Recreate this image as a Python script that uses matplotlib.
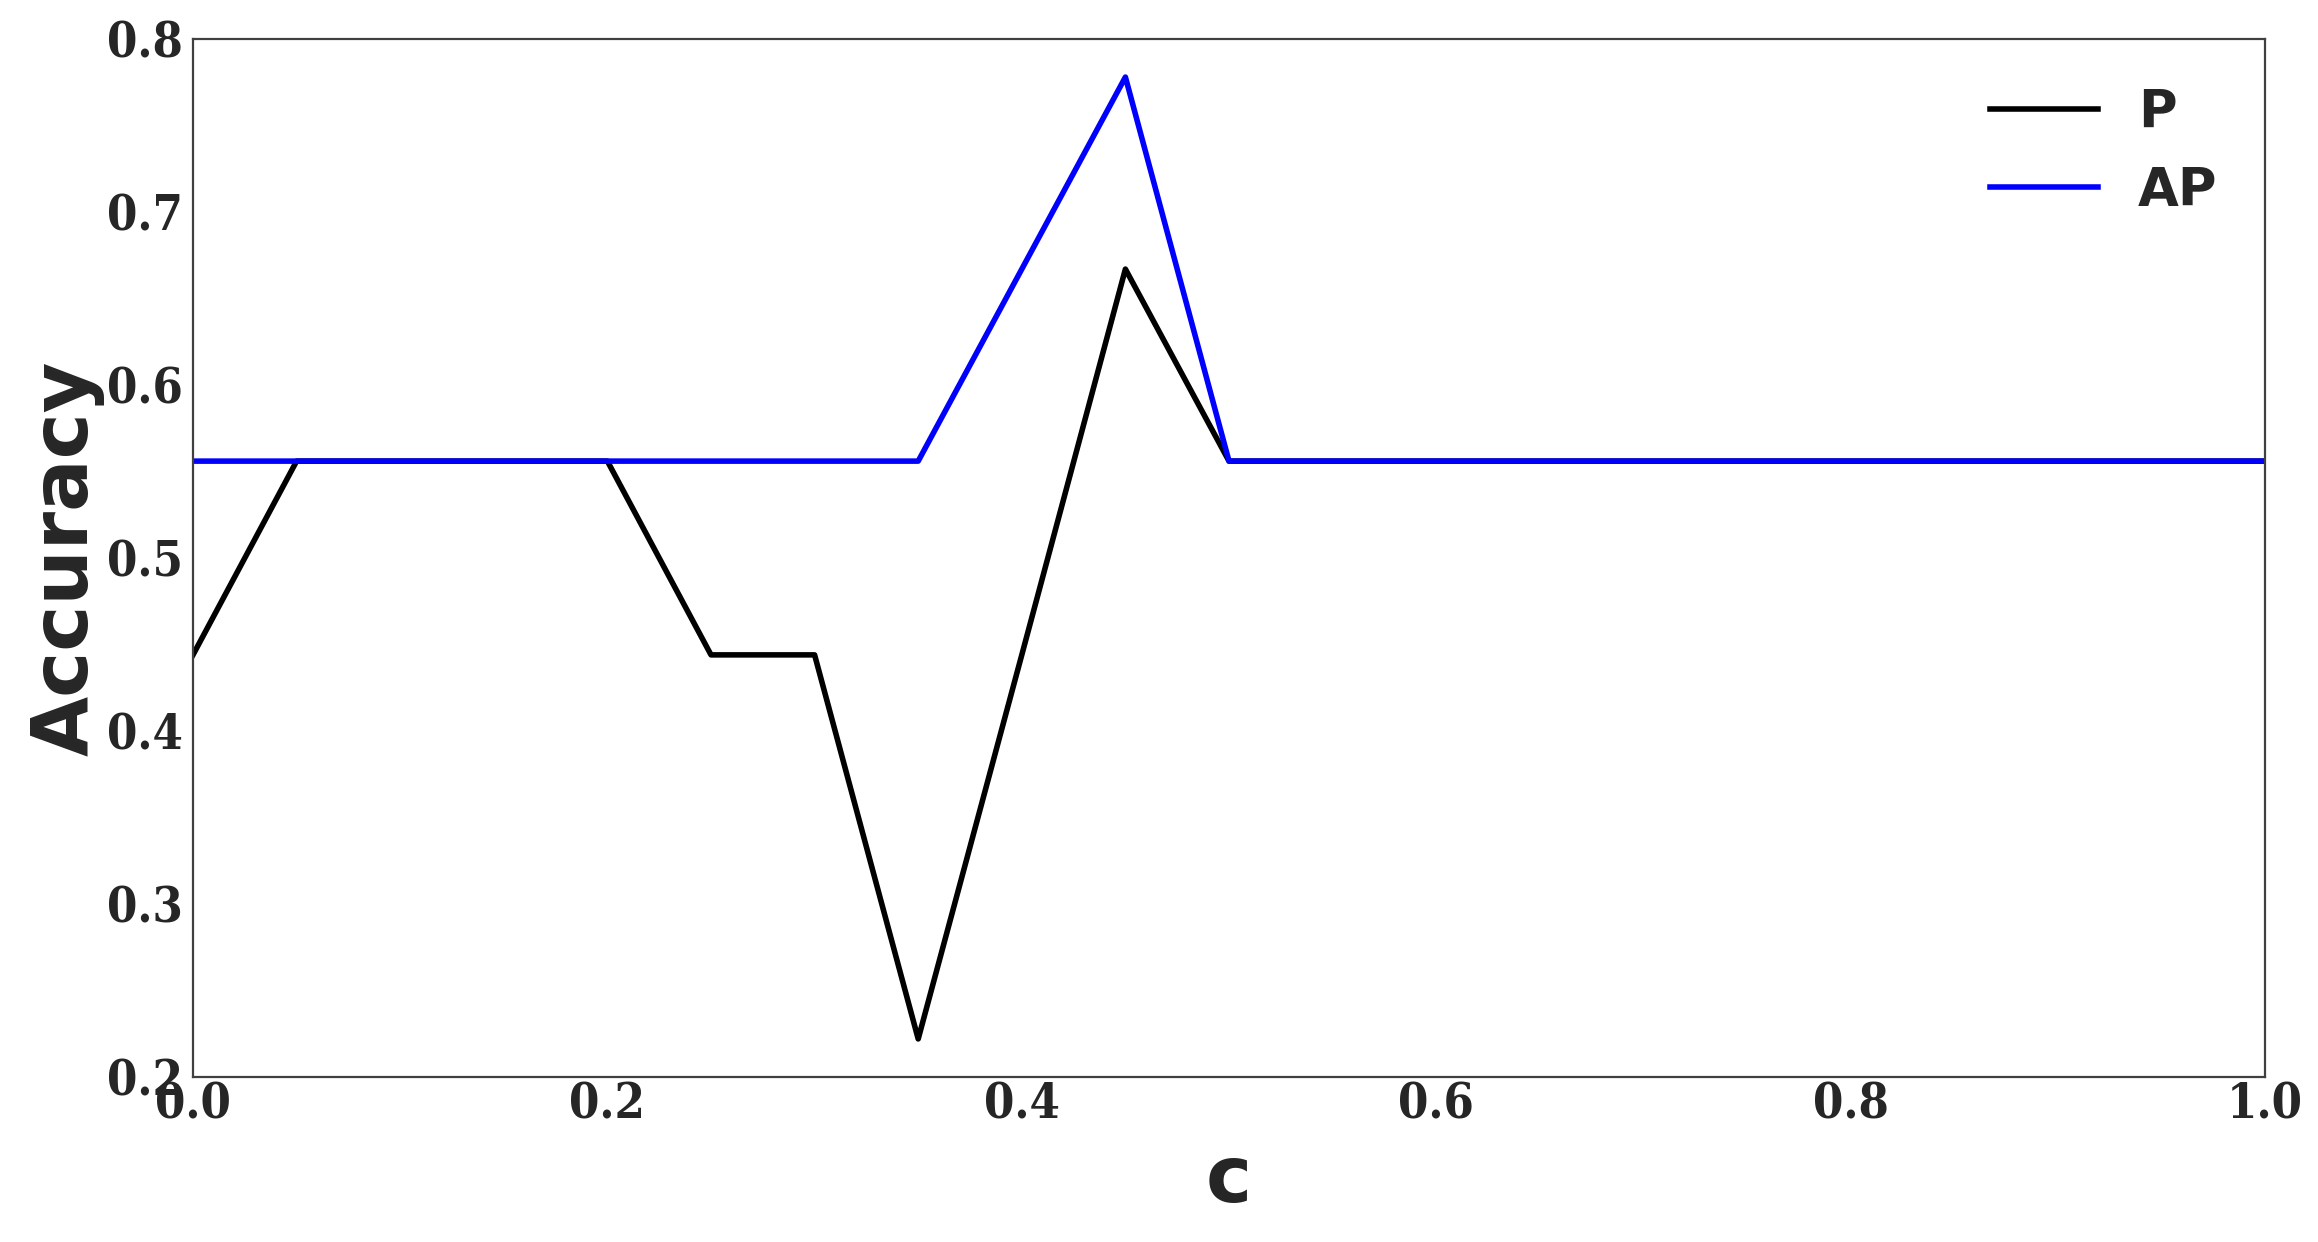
import matplotlib
matplotlib.use("Agg")
import matplotlib.pyplot as plt
from matplotlib import font_manager as fm

c_vals = [0.0, 0.05, 0.1, 0.15, 0.2, 0.25, 0.3, 0.35, 0.4, 0.45, 0.5,
          0.55, 0.6, 0.65, 0.7, 0.75, 0.8, 0.85, 0.9, 0.95, 1.0]
p_acc = [0.444, 0.556, 0.556, 0.556, 0.556, 0.444, 0.444, 0.222, 0.444, 0.667, 0.556,
         0.556, 0.556, 0.556, 0.556, 0.556, 0.556, 0.556, 0.556, 0.556, 0.556]
ap_acc = [0.556, 0.556, 0.556, 0.556, 0.556, 0.556, 0.556, 0.556, 0.667, 0.778, 0.556,
          0.556, 0.556, 0.556, 0.556, 0.556, 0.556, 0.556, 0.556, 0.556, 0.556]
series_labels = ["P", "AP"]
x_ticks = [0.0, 0.2, 0.4, 0.6, 0.8, 1.0]
y_ticks = [0.2, 0.3, 0.4, 0.5, 0.6, 0.7, 0.8]

cond = [f.fname for f in fm.fontManager.ttflist if f.fname.endswith("DejaVuSerifCondensed-Bold.ttf")]
if cond:
    tick_fp = fm.FontProperties(fname=cond[0], size=35)
else:
    tick_fp = fm.FontProperties(family="DejaVu Serif", weight="bold", size=33)

fig = plt.figure(figsize=(23.18, 12.42), dpi=100)
ax = fig.add_axes([193/2318, 1 - 1077/1242, (2265-193)/2318, (1077-39)/1242])

ax.plot(c_vals, p_acc, color="black", lw=4, label=series_labels[0])
ax.plot(c_vals, ap_acc, color="blue", lw=4, label=series_labels[1])

ax.set_xlim(0, 1)
ax.set_ylim(0.2, 0.8)
ax.set_xticks(x_ticks)
ax.set_yticks(y_ticks)
ax.set_xticklabels([f"{t:.1f}" for t in x_ticks])
ax.set_yticklabels([f"{t:.1f}" for t in y_ticks])
for lab in ax.get_xticklabels() + ax.get_yticklabels():
    lab.set_fontproperties(tick_fp)
    lab.set_color("#262626")
ax.tick_params(axis="both", length=0)
ax.tick_params(axis="x", pad=3)
ax.tick_params(axis="y", pad=7)
for s in ax.spines.values():
    s.set_color("#404040")
    s.set_linewidth(1.6)

ax.set_xlabel("c", fontsize=56, fontweight="bold", family="DejaVu Sans", color="#262626", labelpad=10)
ax.set_ylabel("Accuracy", fontsize=56, fontweight="bold", family="DejaVu Sans", color="#262626", labelpad=2)

leg = ax.legend(loc="upper right", frameon=False,
                prop={"family": "DejaVu Sans", "weight": "bold", "size": 38},
                handlelength=2.05, borderaxespad=0.5, handletextpad=0.75)
for t in leg.get_texts():
    t.set_color("#262626")

fig.savefig("out.png", dpi=100)
